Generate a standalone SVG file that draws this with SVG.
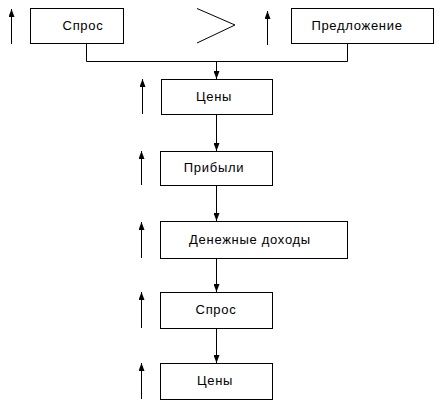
<svg xmlns="http://www.w3.org/2000/svg" width="443" height="413" viewBox="0 0 443 413">
<style>
.box{fill:#fff;stroke:#000;stroke-width:1}
.ln{fill:none;stroke:#000;stroke-width:1}
.up{fill:none;stroke:#000;stroke-width:1;marker-end:url(#ah)}
.dn{fill:none;stroke:#000;stroke-width:1;marker-end:url(#ah)}
text{font-family:"Liberation Sans",Arial,sans-serif;font-size:13px;letter-spacing:0.7px;fill:#000;text-anchor:middle}
</style>
<defs>
<marker id="ah" viewBox="0 0 8 6" refX="8" refY="3" markerWidth="8" markerHeight="6" orient="auto" markerUnits="userSpaceOnUse">
<path d="M0,0 L8,3 L0,6 Z" fill="#000"/>
</marker>
</defs>
<rect width="443" height="413" fill="#fff"/>
<g id="connectors">
<path class="ln" d="M86.5,43 V61.5 H347.5 V43"/>
<path class="dn" d="M216.5,61 V79"/>
<path class="dn" d="M216.5,114 V151"/>
<path class="dn" d="M216.5,185 V221"/>
<path class="dn" d="M216.5,258 V292"/>
<path class="dn" d="M216.5,328 V363"/>
</g>
<g id="indicators">
<path class="up" d="M11.5,44 V9"/>
<path class="up" d="M267.5,45 V11"/>
<path class="up" d="M142.5,114 V79"/>
<path class="up" d="M141.5,185 V151"/>
<path class="up" d="M141.5,258 V222"/>
<path class="up" d="M141.5,328 V292"/>
<path class="up" d="M141.5,399 V363"/>
<path class="ln" d="M197,8.5 L235,25 L197,43"/>
</g>
<g id="n1"><rect class="box" x="30.5" y="8.5" width="93" height="35"/><text x="83" y="30">Спрос</text></g>
<g id="n2"><rect class="box" x="291.5" y="8.5" width="142" height="35"/><text x="357" y="30">Предложение</text></g>
<g id="n3"><rect class="box" x="161.5" y="79.5" width="111" height="35"/><text x="214" y="101">Цены</text></g>
<g id="n4"><rect class="box" x="160.5" y="151.5" width="112" height="34"/><text x="214" y="172">Прибыли</text></g>
<g id="n5"><rect class="box" x="160.5" y="221.5" width="187" height="37"/><text x="250" y="244">Денежные доходы</text></g>
<g id="n6"><rect class="box" x="160.5" y="292.5" width="112" height="36"/><text x="216" y="314">Спрос</text></g>
<g id="n7"><rect class="box" x="160.5" y="363.5" width="112" height="36"/><text x="215" y="385">Цены</text></g>
</svg>
